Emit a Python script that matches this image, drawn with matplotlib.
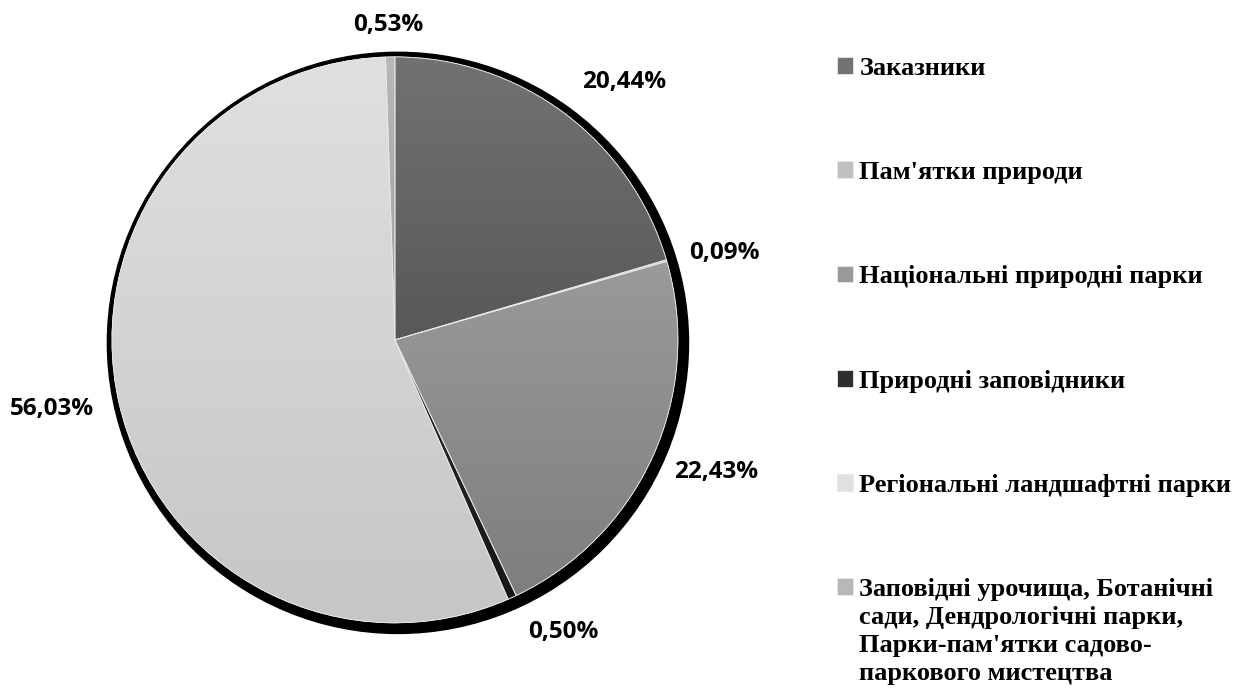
import numpy as np
import matplotlib.pyplot as plt
from matplotlib.patches import Circle, PathPatch
from matplotlib.colors import LinearSegmentedColormap

categories = ["Заказники", "Пам'ятки природи", "Національні природні парки",
              "Природні заповідники", "Регіональні ландшафтні парки",
              "Заповідні урочища, Ботанічні\nсади, Дендрологічні парки,\nПарки-пам'ятки садово-\nпаркового мистецтва"]
shares = [20.44, 0.09, 22.43, 0.50, 56.03, 0.53]
pct_labels = ["20,44%", "0,09%", "22,43%", "0,50%", "56,03%", "0,53%"]
# gradient ends (top, bottom) for each slice
top_colors = ["#727272", "#c0c0c0", "#9a9a9a", "#2e2e2e", "#e0e0e0", "#b8b8b8"]
bottom_colors = ["#585858", "#a8a8a8", "#7e7e7e", "#161616", "#c6c6c6", "#9c9c9c"]

# label positions in pie units (radius = 1)
label_pos = [(0.809, 0.912), (1.166, 0.307), (1.134, -0.466),
             (0.594, -1.032), (-1.212, -0.244), (-0.025, 1.113)]

fig = plt.figure(figsize=(12.34, 6.88), dpi=100)
ax = fig.add_axes([0.0449, 0.0125, 0.5503, 0.9870])

# black drop shadow behind the pie
ax.add_patch(Circle((0.0106, -0.0106), 1.027, color="black", zorder=0))

wedges, _ = ax.pie(shares, colors=top_colors, startangle=90,
                   counterclock=False,
                   wedgeprops=dict(edgecolor="#e8e8e8", linewidth=0.6))

# vertical gradient fill inside each slice
grad = np.linspace(0, 1, 256).reshape(-1, 1)
for w, c0, c1 in zip(wedges, top_colors, bottom_colors):
    w.set_zorder(1)
    cmap = LinearSegmentedColormap.from_list("g", [c1, c0])
    verts = w.get_path().vertices
    x0, x1 = verts[:, 0].min(), verts[:, 0].max()
    y0, y1 = verts[:, 1].min(), verts[:, 1].max()
    im = ax.imshow(grad, cmap=cmap, extent=[x0, x1, y0, y1], origin="lower",
                   aspect="auto", zorder=1.5, interpolation="bilinear")
    im.set_clip_path(w)
    ax.add_patch(PathPatch(w.get_path(), transform=w.get_transform(),
                           fill=False, edgecolor="#e8e8e8", linewidth=0.6, zorder=2))

for txt, (lx, ly) in zip(pct_labels, label_pos):
    ax.text(lx, ly, txt, ha="center", va="center", fontsize=17.5,
            fontweight="bold", family="Open Sans")

ax.set_xlim(-1.2, 1.2)
ax.set_ylim(-1.2, 1.2)
ax.set_aspect("equal")
ax.axis("off")

leg = fig.legend(wedges, categories, loc="upper left", bbox_to_anchor=(0.659, 0.952),
                 frameon=False, prop=dict(family="Liberation Serif", weight="bold", size=19),
                 handlelength=0.6, handleheight=0.6, handletextpad=0.25,
                 labelspacing=3.08)
leg.get_texts()[-1].set_linespacing(1.27)
# put the marker of the multi-line entry next to its first line
rows = [r for col in leg._legend_handle_box.get_children() for r in col.get_children()]
rows[-1].align = "top"

fig.savefig("out.png", dpi=100)
